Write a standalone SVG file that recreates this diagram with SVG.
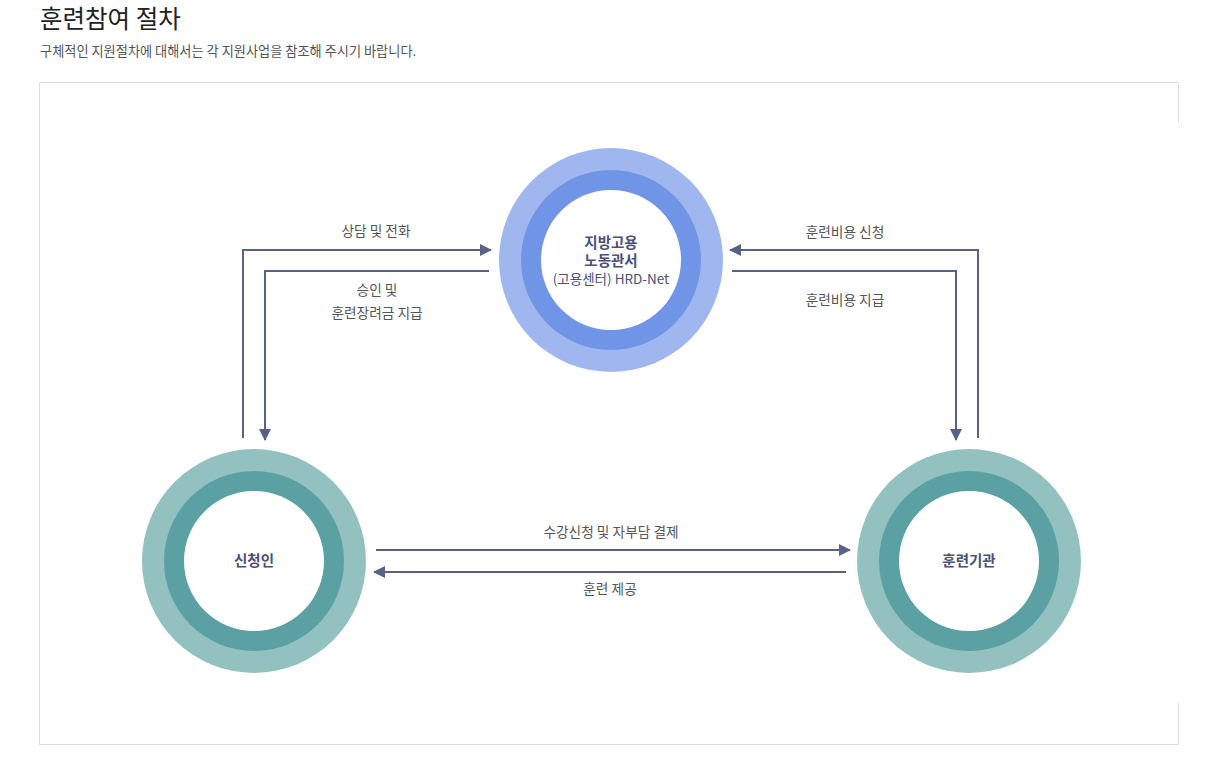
<svg xmlns="http://www.w3.org/2000/svg" width="1229" height="774" viewBox="0 0 1229 774">
<defs>
<style>
.t{font-family:"Noto Sans CJK KR","Noto Sans",sans-serif}
.title{font-size:24.5px;fill:#222}
.sub{font-size:13.2px;fill:#555}
.lbl{font-size:13.7px;fill:#555;text-anchor:middle}
.node{font-size:14.5px;font-weight:bold;fill:#4b5078;text-anchor:middle}
.nodes{font-size:13.5px;font-weight:normal;fill:#4b5078}
.ln{fill:none;stroke:#5a6189;stroke-width:2}
</style>
<marker id="ah" viewBox="0 0 12 12" refX="11" refY="6" markerWidth="12" markerHeight="12" markerUnits="userSpaceOnUse" orient="auto">
<path d="M0,0 L12,6 L0,12 Z" fill="#5a6189"/>
</marker>
</defs>
<rect width="1229" height="774" fill="#fff"/>
<text class="t title" x="40" y="28">훈련참여 절차</text>
<text class="t sub" x="40" y="56">구체적인 지원절차에 대해서는 각 지원사업을 참조해 주시기 바랍니다.</text>
<path d="M1178.5,122 V82.5 H39.5 V744.5 H1178.5 V703" fill="none" stroke="#ddd" stroke-width="1"/>
<g id="connectors">
<path class="ln" d="M243,438 V250 H491" marker-end="url(#ah)"/>
<path class="ln" d="M489,271 H265 V440" marker-end="url(#ah)"/>
<path class="ln" d="M978,438 V250 H730" marker-end="url(#ah)"/>
<path class="ln" d="M732,271 H956 V440" marker-end="url(#ah)"/>
<path class="ln" d="M376,550 H850" marker-end="url(#ah)"/>
<path class="ln" d="M846,572 H374" marker-end="url(#ah)"/>
<text class="t lbl" x="376" y="236">상담 및 전화</text>
<text class="t lbl" x="377" y="295">승인 및</text>
<text class="t lbl" x="377" y="318">훈련장려금 지급</text>
<text class="t lbl" x="845" y="237">훈련비용 신청</text>
<text class="t lbl" x="845" y="305">훈련비용 지급</text>
<text class="t lbl" x="611" y="537">수강신청 및 자부담 결제</text>
<text class="t lbl" x="610" y="594">훈련 제공</text>
</g>
<g id="office">
<circle cx="611" cy="260" r="112" fill="#a0b6ee"/>
<circle cx="611" cy="260" r="90" fill="#7095e6"/>
<circle cx="611" cy="260" r="70" fill="#fff"/>
<text class="t node" x="611" y="248">지방고용<tspan x="611" dy="17.5">노동관서</tspan><tspan class="nodes" x="611" dy="18">(고용센터) HRD-Net</tspan></text>
</g>
<g id="applicant">
<circle cx="254" cy="561" r="112" fill="#93c1c0"/>
<circle cx="254" cy="561" r="90" fill="#5ba1a4"/>
<circle cx="254" cy="561" r="70" fill="#fff"/>
<text class="t node" x="254" y="566">신청인</text>
</g>
<g id="institution">
<circle cx="969" cy="561" r="112" fill="#93c1c0"/>
<circle cx="969" cy="561" r="90" fill="#5ba1a4"/>
<circle cx="969" cy="561" r="70" fill="#fff"/>
<text class="t node" x="969" y="566">훈련기관</text>
</g>
</svg>
